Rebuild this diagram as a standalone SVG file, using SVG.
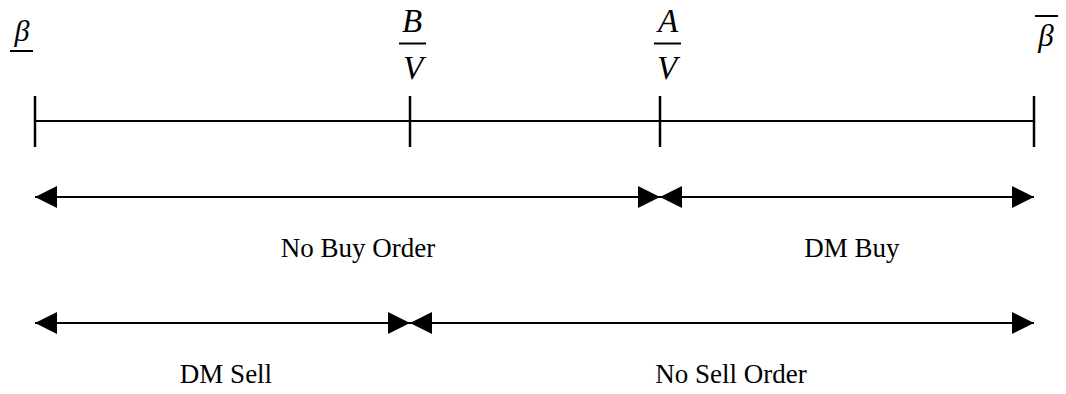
<svg xmlns="http://www.w3.org/2000/svg" width="1066" height="394" viewBox="0 0 1066 394">
<defs>
<style>
.ln{stroke:#000;stroke-width:2;fill:none}
.tk{stroke:#000;stroke-width:2.5;fill:none}
.lbl{font-family:"Liberation Serif","Times New Roman",serif;font-size:27px;fill:#000;text-anchor:middle}
.m{font-family:"Liberation Serif","Times New Roman",serif;font-style:italic;font-size:33px;fill:#000;text-anchor:middle}
</style>
<marker id="ah" viewBox="0 0 22 22" refX="22" refY="11" markerWidth="22" markerHeight="22" markerUnits="userSpaceOnUse" orient="auto-start-reverse">
<path d="M0,0 L22,11 L0,22 Z" fill="#000"/>
</marker>
</defs>
<rect width="1066" height="394" fill="#fff"/>
<g id="axis">
<line class="ln" x1="35" y1="121" x2="1034" y2="121"/>
<line class="tk" x1="35" y1="96" x2="35" y2="147"/>
<line class="tk" x1="410" y1="96" x2="410" y2="147"/>
<line class="tk" x1="660" y1="96" x2="660" y2="147"/>
<line class="tk" x1="1034" y1="96" x2="1034" y2="147"/>
</g>
<g id="label-beta-low">
<text class="m" x="22" y="41" style="font-size:30px">β</text>
<line class="ln" x1="10" y1="51" x2="33" y2="51" stroke-width="1.5"/>
</g>
<g id="label-B-over-V">
<text class="m" x="412" y="32">B</text>
<line class="ln" x1="399" y1="43.5" x2="426" y2="43.5" stroke-width="1.5"/>
<text class="m" x="413" y="79">V</text>
</g>
<g id="label-A-over-V">
<text class="m" x="668" y="32">A</text>
<line class="ln" x1="654" y1="43.5" x2="681" y2="43.5" stroke-width="1.5"/>
<text class="m" x="667" y="79">V</text>
</g>
<g id="label-beta-high">
<text class="m" x="1046" y="46" style="font-size:31px">β</text>
<line class="ln" x1="1035" y1="16" x2="1058" y2="16" stroke-width="1.5"/>
</g>
<g id="connectors">
<line class="ln" x1="35" y1="197" x2="660" y2="197" marker-start="url(#ah)" marker-end="url(#ah)"/>
<line class="ln" x1="660" y1="197" x2="1034" y2="197" marker-start="url(#ah)" marker-end="url(#ah)"/>
<line class="ln" x1="35" y1="323" x2="410" y2="323" marker-start="url(#ah)" marker-end="url(#ah)"/>
<line class="ln" x1="410" y1="323" x2="1034" y2="323" marker-start="url(#ah)" marker-end="url(#ah)"/>
</g>
<g id="text-no-buy"><text class="lbl" x="358" y="257">No Buy Order</text></g>
<g id="text-dm-buy"><text class="lbl" x="852" y="257">DM Buy</text></g>
<g id="text-dm-sell"><text class="lbl" x="226" y="383">DM Sell</text></g>
<g id="text-no-sell"><text class="lbl" x="731" y="383">No Sell Order</text></g>
</svg>
